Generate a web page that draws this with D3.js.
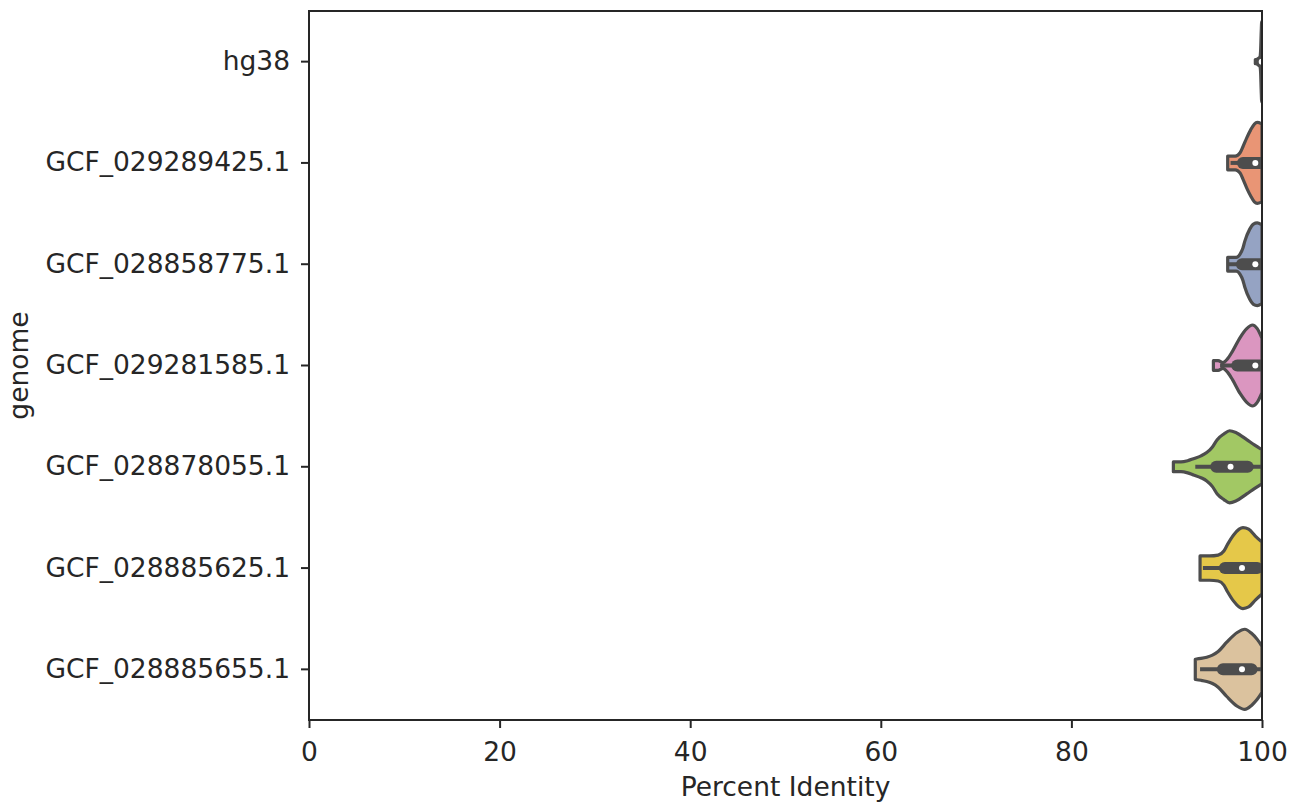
<!DOCTYPE html>
<html><head><meta charset="utf-8">
<script src="https://cdn.jsdelivr.net/npm/d3@7"></script>
<style>body{margin:0;background:#fff;} text{font-family:"DejaVu Sans",sans-serif;fill:#262626;}</style>
</head><body><svg id="c" width="1291" height="803"></svg>
<script>
const categories = ["hg38","GCF_029289425.1","GCF_028858775.1","GCF_029281585.1","GCF_028878055.1","GCF_028885625.1","GCF_028885655.1"];
const colors = ["#71b7a1","#e99575","#95a3c3","#db96c0","#a2c864","#e5c849","#dbc29e"];
const xTicks = [0,20,40,60,80,100];
// density profiles: [percent identity, relative density]
const dens_hg38 = [[99.3,0.05],[99.6,0.05],[99.75,0.06],[99.85,0.25],[99.92,0.74],[99.97,0.99],[100,0.99]];
const dens_029289425 = [[96.4,0.17],[97.2,0.17],[97.7,0.25],[98.0,0.4],[98.4,0.62],[98.8,0.81],[99.2,0.96],[99.5,1.0],[100,0.96]];
const dens_028858775 = [[96.4,0.17],[97.3,0.17],[97.7,0.25],[98.0,0.4],[98.2,0.57],[98.7,0.86],[99.1,0.99],[99.5,1.02],[100,0.97]];
const dens_029281585 = [[94.9,0.12],[95.4,0.12],[95.9,0.07],[96.4,0.17],[96.9,0.35],[97.7,0.69],[98.4,0.91],[99.0,1.0],[99.5,0.91],[100,0.67]];
const dens_028878055 = [[90.7,0.12],[91.5,0.12],[92.2,0.15],[92.8,0.2],[93.6,0.27],[94.2,0.35],[94.8,0.49],[95.3,0.67],[96.0,0.81],[96.6,0.89],[97.3,0.84],[98.4,0.67],[99.2,0.54],[100,0.42]];
const dens_028885625 = [[93.5,0.3],[94.5,0.3],[95.4,0.32],[96.0,0.42],[96.4,0.59],[97.0,0.81],[97.6,0.96],[98.0,1.0],[98.6,0.96],[99.3,0.79],[100,0.64]];
const dens_028885655 = [[93.0,0.25],[93.6,0.27],[94.2,0.3],[94.8,0.35],[95.4,0.44],[96.3,0.67],[97.4,0.91],[98.2,0.99],[98.9,0.89],[99.5,0.74],[100,0.57]];
const densities = [dens_hg38,dens_029289425,dens_028858775,dens_029281585,dens_028878055,dens_028885625,dens_028885655];
// inner box: whisker low, q1, median, q3, whisker high
const whiskerLo = [99.2,96.7,96.5,95.6,93.0,93.8,93.5];
const q1 = [99.9,98.0,97.9,97.4,95.2,96.1,95.9];
const median = [99.97,99.3,99.3,99.3,96.7,97.9,97.9];
const q3 = [100,99.9,99.9,99.8,98.5,99.5,98.9];
const whiskerHi = [100,100,100,100,100,100,100];

const svg = d3.select("#c");
const m = {l:309, r:1262, t:11, b:720};
const x = d3.scaleLinear().domain([0,100]).range([m.l,m.r]);
const y = d3.scaleBand().domain(categories).range([m.t,m.b]);
const w = d3.scaleLinear().domain([0,1]).range([0,y.bandwidth()*0.4]);

svg.append("defs").append("clipPath").attr("id","clip").append("rect")
  .attr("x",m.l).attr("y",m.t).attr("width",m.r-m.l).attr("height",m.b-m.t);

const g = svg.append("g").attr("clip-path","url(#clip)");
categories.forEach((c,i)=>{
  const cy = y(c)+y.bandwidth()/2;
  const area = d3.area().curve(d3.curveMonotoneX)
    .x(d=>x(d[0])).y0(d=>cy-w(d[1])).y1(d=>cy+w(d[1]));
  g.append("path").attr("d",area(densities[i])).attr("fill",colors[i])
    .attr("stroke","#4d4d4d").attr("stroke-width",3.2).attr("stroke-linejoin","round");
  g.append("line").attr("x1",x(whiskerLo[i])).attr("x2",x(whiskerHi[i])).attr("y1",cy).attr("y2",cy)
    .attr("stroke","#4d4d4d").attr("stroke-width",4);
  g.append("line").attr("x1",x(q1[i])).attr("x2",x(q3[i])).attr("y1",cy).attr("y2",cy)
    .attr("stroke","#4d4d4d").attr("stroke-width",12).attr("stroke-linecap","round");
  g.append("circle").attr("cx",x(median[i])).attr("cy",cy).attr("r",3).attr("fill","#fff");
});

const xa = svg.append("g").attr("transform",`translate(0,${m.b})`)
  .call(d3.axisBottom(x).tickValues(xTicks).tickSize(8).tickPadding(14));
const ya = svg.append("g").attr("transform",`translate(${m.l},0)`)
  .call(d3.axisLeft(y).tickSize(8).tickPadding(11));
[xa,ya].forEach(a=>{
  a.select(".domain").remove();
  a.selectAll("line").attr("stroke","#262626").attr("stroke-width",2);
  a.selectAll("text").attr("font-size",26.5).style("font-family","DejaVu Sans").attr("fill","#262626");
});
xa.selectAll("text").attr("dy","0.73em").attr("y",22);
svg.append("rect").attr("x",m.l).attr("y",m.t).attr("width",m.r-m.l).attr("height",m.b-m.t)
  .attr("fill","none").attr("stroke","#262626").attr("stroke-width",2);

svg.append("text").attr("x",(m.l+m.r)/2).attr("y",796).attr("text-anchor","middle")
  .attr("font-size",26.5).text("Percent Identity");
svg.append("text").attr("transform",`translate(28,${(m.t+m.b)/2}) rotate(-90)`).attr("text-anchor","middle")
  .attr("font-size",26.5).text("genome");
</script></body></html>
